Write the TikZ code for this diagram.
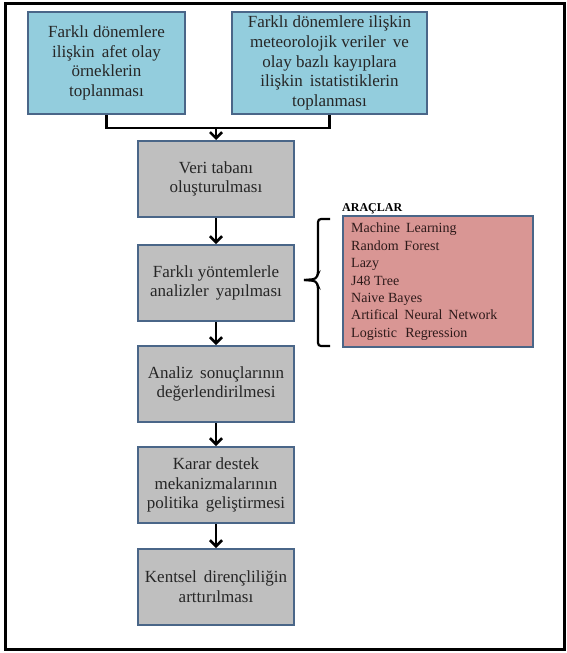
\documentclass[tikz,border=0pt]{standalone}
\usepackage{fontspec}
\setmainfont{Liberation Serif}
\usetikzlibrary{arrows.meta}
\definecolor{boxblue}{HTML}{93CDDD}
\definecolor{boxgray}{HTML}{BFBFBF}
\definecolor{boxpink}{HTML}{D99694}
\definecolor{edgeblue}{HTML}{4A6688}
\definecolor{pinktext}{HTML}{2E1A1A}
\tikzset{
  flowbox/.style={draw=edgeblue, line width=2pt, align=center, inner sep=2pt,
    font=\fontsize{17}{19.8}\selectfont, text=black!85},
  bluebox/.style={flowbox, fill=boxblue, minimum height=102pt},
  graybox/.style={flowbox, fill=boxgray, minimum width=156pt, minimum height=76pt},
  link/.style={line width=2.4pt, black},
  arr/.style={link, -{Straight Barb[length=6pt,width=12pt,line width=2.6pt]}},
}
\begin{document}
\begin{tikzpicture}[x=1pt,y=-1pt]
\useasboundingbox (0,0) rectangle (566,653);
\draw[line width=3pt] (5,3) rectangle (564,649);

\node[bluebox, minimum width=157pt] (b1) at (106.5,63) {Farklı dönemlere\\ilişkin\, afet olay\\örneklerin\\toplanması};
\node[bluebox, minimum width=195pt] (b2) at (329.5,63) {Farklı dönemlere ilişkin\\meteorolojik veriler\, ve\\olay bazlı kayıplara\\ilişkin\, istatistiklerin\\toplanması};
\node[graybox] (b3) at (216,179) {Veri tabanı\\oluşturulması};
\node[graybox] (b4) at (216,283) {Farklı yöntemlerle\\analizler\, yapılması};
\node[graybox] (b5) at (216,384) {Analiz\, sonuçlarının\\değerlendirilmesi};
\node[graybox] (b6) at (216,485) {Karar destek\\mekanizmalarının\\politika\, geliştirmesi};
\node[graybox] (b7) at (216,587) {Kentsel\, dirençliliğin\\arttırılması};

\node[draw=edgeblue, line width=2pt, fill=boxpink, minimum width=190pt, minimum height=131pt,
  inner sep=0pt] (tools) at (438,281.5) {};
\node[anchor=south west, inner sep=0pt, font=\fontsize{12}{14}\selectfont\bfseries] (toolstitle)
  at ([yshift=1pt]tools.north west) {ARAÇLAR};
\node[anchor=north west, align=left, inner sep=0pt, text=pinktext,
  font=\fontsize{14}{17.4}\selectfont] (toollist) at ([xshift=9pt,yshift=-8pt]tools.north west)
  {Machine\, Learning\\Random\, Forest\\Lazy\\J48 Tree\\Naive Bayes\\Artifical\, Neural\, Network\\Logistic\, \,Regression};

\coordinate (m) at (216,128);
\draw[link] (b1.south) |- (m);
\draw[link] (b2.south) |- (m);
\draw[arr] (m) -- (b3.north);
\draw[arr] (b3) -- (b4);
\draw[arr] (b4) -- (b5);
\draw[arr] (b5) -- (b6);
\draw[arr] (b6) -- (b7);

% brace
\coordinate (bt) at (330,219);
\coordinate (bb) at (330,346);
\coordinate (tip) at (304,280);
\draw[line width=2.2pt, rounded corners=3pt] (bt) -- (318,219) -- (318,274) -- (316,279) -- (tip);
\draw[line width=2.2pt, rounded corners=3pt] (bb) -- (318,346) -- (318,286) -- (316,281) -- (tip);
\end{tikzpicture}
\end{document}
